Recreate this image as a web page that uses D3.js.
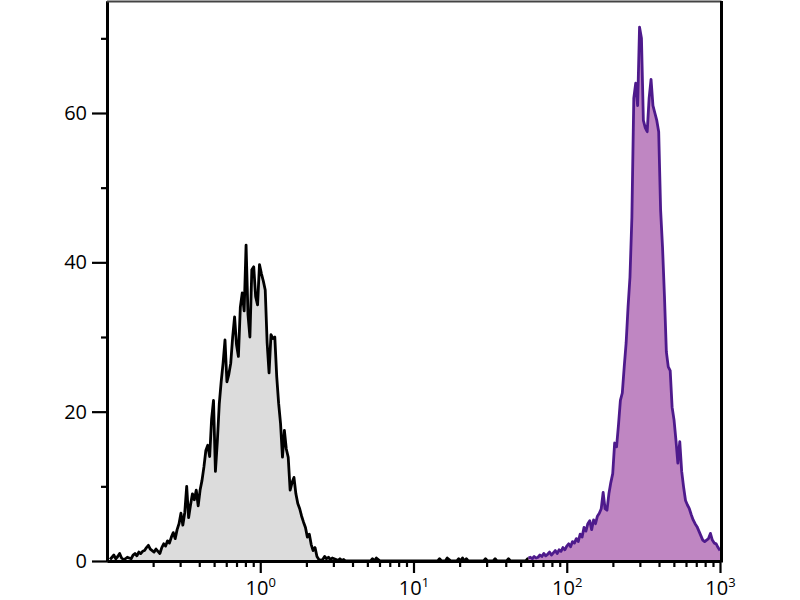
<!DOCTYPE html>
<html>
<head>
<meta charset="utf-8">
<script src="https://cdn.jsdelivr.net/npm/d3@7"></script>
<style>
  html, body { margin: 0; padding: 0; background: #fff; }
  svg { display: block; }
  text { font-family: "Open Sans", "DejaVu Sans", sans-serif; fill: #000; }
</style>
</head>
<body>
<svg id="chart" width="800" height="600"></svg>
<script>
// ---- data (histogram channels on a log10 axis) ----
const binStep = 0.0125;          // log10 width of one channel
const controlStart = -0.98;      // log10 of the first control channel
const stainedStart = 1.75;       // log10 of the first stained channel

// Unstained / isotype control (grey)
const controlCounts = [
  0.2,0.5,0.8,0.3,0.6,1.0,0.4,0.2,0.3,0.5,
  0.4,0.3,0.8,1.0,0.7,1.2,1.0,1.3,1.4,1.8,
  2.1,1.6,1.4,1.2,1.6,1.3,1.0,1.8,2.3,2.0,
  2.7,2.4,3.2,3.8,3.0,4.2,5.0,6.4,4.8,6.5,
  10.0,5.8,7.5,9.0,8.2,9.5,7.4,9.5,10.8,12.6,
  14.8,15.5,14.0,19.0,21.5,12.0,16.0,21.0,24.0,26.5,
  29.6,24.0,25.0,26.5,30.0,32.7,29.0,27.4,34.0,35.9,
  33.5,42.3,33.0,30.0,39.0,39.4,35.4,34.3,39.7,38.5,
  37.5,36.3,29.2,25.2,30.3,29.8,30.0,24.7,21.1,18.4,
  13.9,17.5,15.0,13.9,9.5,10.5,11.2,9.0,7.7,7.0,
  6.0,5.2,4.5,3.2,3.6,2.2,1.4,1.8,0.6,0.2,
  0.1,0.2,0.6,0.3,0.5,0.2,0.4,0.3,0.2,0.1,
  0.3,0.1,0.2,0,0,0,0,0,0,0,
  0,0,0,0,0,0,0,0.3,0,0.4,
  0.2,0,0,0,0,0,0,0,0,0,
  0,0,0,0,0,0,0,0,0,0,
  0,0,0,0,0,0,0,0,0,0,
  0,0,0.3,0,0,0,0.4,0.2,0,0,
  0,0,0.3,0,0.4,0,0.3,0,0,0,
  0,0,0,0,0,0,0.3,0,0,0,
  0,0.3,0,0,0,0,0,0,0.3,0,
  0,0,0,0,0,0,0,0,0.3,0
];

// Stained sample (purple)
const stainedCounts = [
  0.4,0.5,0.3,0.6,0.4,0.5,0.8,0.6,1.0,0.7,
  0.9,1.2,0.8,1.1,1.4,1.0,1.5,1.3,1.8,1.5,
  2.0,2.3,1.9,2.6,2.4,3.0,2.6,3.6,3.2,4.5,
  4.0,5.0,5.4,4.2,5.5,5.0,6.0,6.4,7.0,9.2,
  7.0,6.8,9.0,10.5,11.7,15.8,15.3,18.2,21.5,22.5,
  26.0,29.2,34.0,38.0,46.0,62.0,64.0,61.0,71.5,70.0,
  59.0,58.0,57.5,62.0,64.5,61.0,60.0,59.0,57.5,47.0,
  42.0,35.5,28.0,26.0,25.5,20.6,18.9,16.2,13.1,16.0,
  12.0,9.9,8.1,7.5,7.0,6.2,5.5,5.0,4.6,4.0,
  3.4,2.8,2.6,2.8,3.0,3.7,2.8,2.4,2.3,1.8,
  1.4
];

const yMajorTicks = [0, 20, 40, 60];
const yMinorTicks = [10, 30, 50, 70];
const xDecades = [1, 10, 100, 1000];
const xDecadeExponents = ["0", "1", "2", "3"];

// ---- layout ----
const svg = d3.select("#chart");
const mLeft = 107, mRight = 720, mTop = 1, mBottom = 561;

const x = d3.scaleLog().domain([0.1, 1000]).range([mLeft, mRight]);
const y = d3.scaleLinear().domain([0, 75]).range([mBottom, mTop]);

function toPoints(start, counts) {
  return counts.map((c, i) => ({ v: Math.pow(10, start + i * binStep), c }));
}
const controlPts = toPoints(controlStart, controlCounts);
const stainedPts = toPoints(stainedStart, stainedCounts);

const area = d3.area().x(d => x(d.v)).y0(y(0)).y1(d => y(d.c));
const line = d3.line().x(d => x(d.v)).y(d => y(d.c));

// grey control
svg.append("path").datum(controlPts).attr("d", area)
  .attr("fill", "#dcdcdc").attr("stroke", "none");
svg.append("path").datum(controlPts).attr("d", line)
  .attr("fill", "none").attr("stroke", "#000").attr("stroke-width", 2.8)
  .attr("stroke-linejoin", "round");

// purple stained
svg.append("path").datum(stainedPts).attr("d", area)
  .attr("fill", "#bf86c2").attr("stroke", "none");
svg.append("path").datum(stainedPts).attr("d", line)
  .attr("fill", "none").attr("stroke", "#4e1a8c").attr("stroke-width", 2.8)
  .attr("stroke-linejoin", "round");

// ---- axes ----
const yMinor = svg.append("g").attr("transform", `translate(${mLeft},0)`)
  .call(d3.axisLeft(y).tickValues(yMinorTicks).tickSize(6).tickSizeOuter(0).tickFormat(""));
const yMajor = svg.append("g").attr("transform", `translate(${mLeft},0)`)
  .call(d3.axisLeft(y).tickValues(yMajorTicks).tickSize(15).tickSizeOuter(0).tickPadding(5)
    .tickFormat(d3.format("d")));

const minorX = x.ticks().filter(v => !xDecades.includes(v) && v > 0.1);
const xMinor = svg.append("g").attr("transform", `translate(0,${mBottom})`)
  .call(d3.axisBottom(x).tickValues(minorX).tickSize(6).tickSizeOuter(0).tickFormat(""));
const xMajor = svg.append("g").attr("transform", `translate(0,${mBottom})`)
  .call(d3.axisBottom(x).tickValues(xDecades).tickSize(12).tickSizeOuter(0).tickFormat(""));

[yMinor, yMajor, xMinor, xMajor].forEach(g => {
  g.selectAll("path.domain").attr("stroke", "#000").attr("stroke-width", 3);
  g.selectAll(".tick line").attr("stroke", "#000").attr("stroke-width", 2.2);
});
yMajor.selectAll(".tick text").attr("font-size", 20)
  .style("font-family", '"Open Sans", sans-serif').attr("fill", "#000");

// decade labels 10^n
xMajor.selectAll(".tick").each(function (d, i) {
  const t = d3.select(this).append("text")
    .attr("y", 34).attr("text-anchor", "middle")
    .attr("font-size", 20).attr("fill", "#000");
  t.append("tspan").text("10");
  t.append("tspan").attr("font-size", 13).attr("dy", -8).text(xDecadeExponents[i]);
});

// frame: top and right
svg.append("line").attr("x1", mLeft).attr("x2", mRight + 1.5)
  .attr("y1", 1.5).attr("y2", 1.5).attr("stroke", "#444").attr("stroke-width", 2);
svg.append("line").attr("x1", mRight + 1.5).attr("x2", mRight + 1.5)
  .attr("y1", 1).attr("y2", mBottom + 1.5).attr("stroke", "#000").attr("stroke-width", 3);
</script>
</body>
</html>
